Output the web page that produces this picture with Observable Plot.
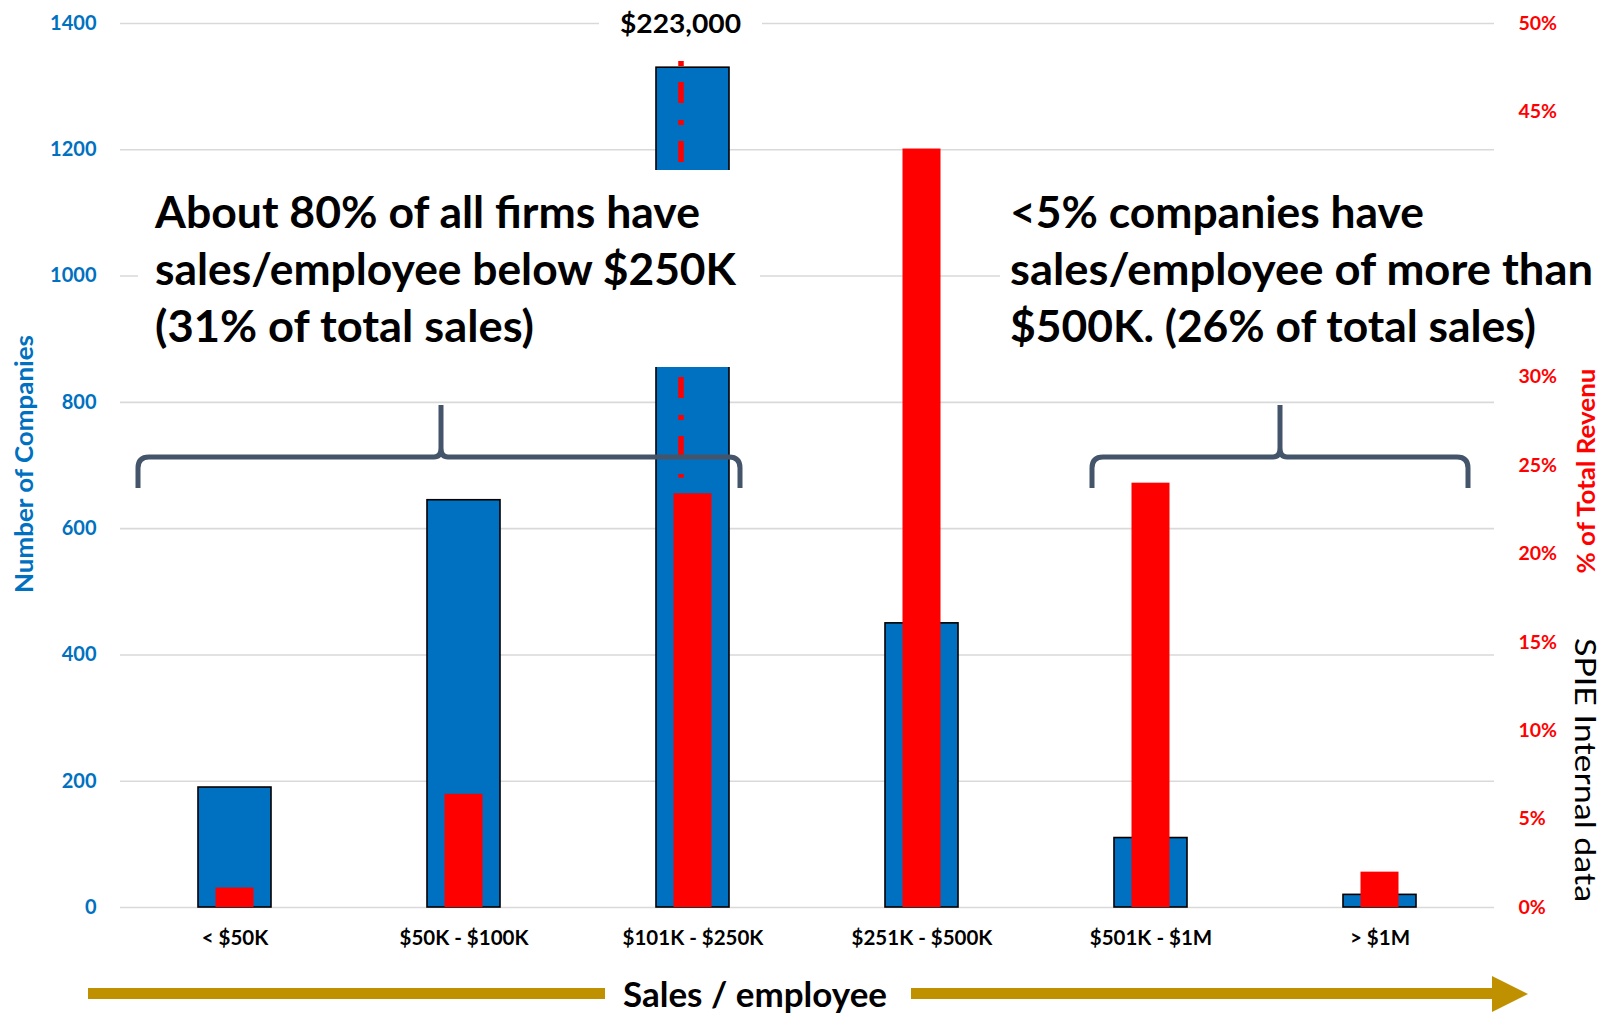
<!DOCTYPE html>
<html><head><meta charset="utf-8">
<script src="https://cdn.jsdelivr.net/npm/d3@7"></script>
<script src="https://cdn.jsdelivr.net/npm/@observablehq/plot@0.6"></script>
<style>
html,body{margin:0;padding:0;background:#fff;}
#chart{width:1608px;height:1013px;overflow:hidden;}
svg{display:block;}
</style></head><body><div id="chart"></div>
<script>
// ---- data ----
const categories = ["< $50K", "$50K - $100K", "$101K - $250K", "$251K - $500K", "$501K - $1M", "> $1M"];
const companies = [190, 645, 1330, 450, 110, 20];
const revenuePct = [1.1, 6.4, 23.4, 42.9, 24.0, 2.0];
const leftTicks = [0, 200, 400, 600, 800, 1000, 1200, 1400];
// 35% and 40% are hidden behind the note box in the original
const rightTicks = [0, 5, 10, 15, 20, 25, 30, 45, 50];
const medianMarker = [{category: "$101K - $250K", label: "$223,000", from: 680, to: 1340}];
const noteLeft = ["About 80% of all firms have", "sales/employee below $250K", "(31% of total sales)"];
const noteRight = ["<5% companies have", "sales/employee of more than", "$500K. (26% of total sales)"];

const yMax = 1400, pctMax = 50, pctToCount = yMax / pctMax;
const data = categories.map((c, i) => ({category: c, companies: companies[i], pct: revenuePct[i]}));

const BLUE = "#0070C0", RED = "#FF0000", GRID = "#D9D9D9", BRACE = "#44546A", GOLD = "#BF9000";
const FONT = "Lato, 'Open Sans', sans-serif";

const plot = Plot.plot({
  width: 1608, height: 1013,
  marginLeft: 120, marginRight: 114, marginTop: 23, marginBottom: 106,
  style: {fontFamily: FONT, background: "white", overflow: "visible"},
  x: {domain: categories, padding: 0},
  y: {domain: [0, yMax]},
  marks: [
    Plot.gridY(leftTicks, {stroke: GRID, strokeOpacity: 1, strokeWidth: 1.6}),
    Plot.barY(data, {x: "category", y: "companies", fill: BLUE, stroke: "black", strokeWidth: 1.6, insetLeft: 78, insetRight: 78}),
    Plot.barY(data, {x: "category", y: d => d.pct * pctToCount, fill: RED, insetLeft: 95.5, insetRight: 95.5}),
    Plot.ruleX(medianMarker, {x: "category", y1: "to", y2: "from", dx: -12, stroke: RED, strokeWidth: 5.5, strokeDasharray: "5,16,21,17"}),
    Plot.axisY(leftTicks, {anchor: "left", tickSize: 0, tickPadding: 24, label: null, color: BLUE, fontSize: 20, fontWeight: "bold", tickFormat: d => String(d)}),
    Plot.axisY(rightTicks.map(p => p * pctToCount), {anchor: "right", tickSize: 0, tickPadding: 24, label: null, color: RED, fontSize: 19.5, fontWeight: "bold", tickFormat: d => Math.round(d / pctToCount) + "%"}),
    Plot.axisX({anchor: "bottom", tickSize: 0, tickPadding: 23, label: null, color: "black", fontSize: 20.5, fontWeight: "bold"})
  ]
});
document.getElementById("chart").appendChild(plot);

const svg = d3.select(plot);
svg.selectAll('g[aria-label$="tick label"] text').attr("font-weight", "bold");
svg.selectAll('g[aria-label$="tick label"]').attr("font-weight", "bold");

// ---- annotations ----
const g = svg.append("g").attr("font-family", FONT).attr("text-anchor", "start");

// white boxes behind text
g.append("rect").attr("x", 138).attr("y", 170).attr("width", 622).attr("height", 197).attr("fill", "white");
g.append("rect").attr("x", 1000).attr("y", 170).attr("width", 608).attr("height", 197).attr("fill", "white");
g.append("rect").attr("x", 599).attr("y", 4).attr("width", 163).attr("height", 40).attr("fill", "white");

// median label
const xs = plot.scale("x");
const medX = xs.apply(medianMarker[0].category) + xs.bandwidth / 2 - 12;
g.append("text").attr("x", medX).attr("y", 33).attr("text-anchor", "middle")
  .attr("font-size", 26).attr("font-weight", "bold").attr("fill", "black")
  .attr("textLength", 121).attr("lengthAdjust", "spacingAndGlyphs").text(medianMarker[0].label);

// big notes
const baselines = [228, 285, 342];
const leftW = [545, 581, 379], rightW = [414, 583, 526];
noteLeft.forEach((t, i) => {
  g.append("text").attr("x", 155).attr("y", baselines[i]).attr("text-anchor", "start").attr("font-size", 43).attr("font-weight", "bold")
    .attr("fill", "black").attr("textLength", leftW[i]).attr("lengthAdjust", "spacingAndGlyphs").text(t);
});
noteRight.forEach((t, i) => {
  g.append("text").attr("x", 1010).attr("y", baselines[i]).attr("text-anchor", "start").attr("font-size", 43).attr("font-weight", "bold")
    .attr("fill", "black").attr("textLength", rightW[i]).attr("lengthAdjust", "spacingAndGlyphs").text(t);
});

// braces
function brace(x0, x1, tip) {
  const yh = 457, yt = 405, yb = 488, r = 11, rt = 7;
  return `M${x0},${yb} L${x0},${yh + r} Q${x0},${yh} ${x0 + r},${yh} L${tip - rt},${yh} Q${tip},${yh} ${tip},${yh - rt - 2} L${tip},${yt}` +
         ` M${x1},${yb} L${x1},${yh + r} Q${x1},${yh} ${x1 - r},${yh} L${tip + rt},${yh} Q${tip},${yh} ${tip},${yh - rt - 2}`;
}
g.append("path").attr("d", brace(138, 740, 441)).attr("fill", "none").attr("stroke", BRACE).attr("stroke-width", 5);
g.append("path").attr("d", brace(1092, 1468, 1280)).attr("fill", "none").attr("stroke", BRACE).attr("stroke-width", 5);

// axis titles
g.append("text").attr("transform", "translate(33,464) rotate(-90)").attr("text-anchor", "middle")
  .attr("font-size", 25).attr("font-weight", "bold").attr("fill", BLUE)
  .attr("textLength", 258).attr("lengthAdjust", "spacingAndGlyphs").text("Number of Companies");
g.append("text").attr("transform", "translate(1595,471) rotate(-90)").attr("text-anchor", "middle")
  .attr("font-size", 25).attr("font-weight", "bold").attr("fill", RED)
  .attr("textLength", 205).attr("lengthAdjust", "spacingAndGlyphs").text("% of Total Revenu");
g.append("text").attr("transform", "translate(1575,770) rotate(90)").attr("text-anchor", "middle")
  .attr("font-size", 28).attr("fill", "black")
  .attr("textLength", 264).attr("lengthAdjust", "spacingAndGlyphs").text("SPIE Internal data");

// x title with arrow
g.append("rect").attr("x", 88).attr("y", 988).attr("width", 517).attr("height", 11).attr("fill", GOLD);
g.append("path").attr("d", "M911,988 L1492,988 L1492,976 L1528,994 L1492,1012 L1492,999 L911,999 Z").attr("fill", GOLD);
g.append("text").attr("x", 755).attr("y", 1007).attr("text-anchor", "middle")
  .attr("font-size", 35).attr("font-weight", "bold").attr("fill", "black")
  .attr("textLength", 264).attr("lengthAdjust", "spacingAndGlyphs").text("Sales / employee");
</script>
</body></html>
